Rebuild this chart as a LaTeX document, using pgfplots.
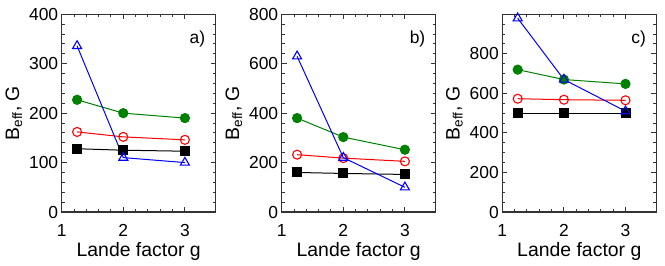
\documentclass[border=0pt]{standalone}
\usepackage{fontspec}
\setmainfont{Liberation Sans}
\usepackage{pgfplots}
\pgfplotsset{compat=1.18}
\definecolor{mygreen}{RGB}{0,128,0}
\pgfplotsset{
  panel/.style={
    scale only axis, width=154bp, height=197.7bp, anchor=south west,
    xmin=1, xmax=3.5, xtick={1,2,3}, minor x tick num=4,
    ymin=0,
    tick align=inside,
    font=\fontsize{17.5}{21}\selectfont,
    axis line style={line width=1.2bp, black!80},
    tick style={line width=1bp, black!80},
    major tick length=5bp, minor tick length=3bp,
    xlabel={Lande factor g},
    ylabel={B\textsubscript{eff}, G},
    label style={font=\fontsize{19.5}{23}\selectfont},
    /pgf/number format/assume math mode=true,
    xticklabel style={yshift=-9bp},
    xlabel style={yshift=1bp},
    ylabel style={yshift=0bp},
    clip=false,
  },
  sq/.style={black, line width=1bp, mark=square*, mark size=4.5bp, mark options={solid, fill=black}},
  ci/.style={red, line width=1bp, mark=o, mark size=4.5bp, mark options={solid, line width=1.1bp}},
  gr/.style={mygreen, line width=1bp, mark=*, mark size=4.6bp, mark options={solid, fill=mygreen}},
  tr/.style={blue, line width=1bp, mark=triangle, mark size=5.2bp, mark options={solid, line width=1.1bp}},
}
\begin{document}
\begin{tikzpicture}
\path[use as bounding box] (0,0) rectangle (665bp,266bp);
% panel a
\begin{axis}[panel, at={(61.7bp,54bp)}, ymax=400, ytick={0,100,...,400}, minor y tick num=4]
\addplot[sq] coordinates {(1.25,128) (2,125) (3,123)};
\addplot[ci] coordinates {(1.25,162) (2,152) (3,146)};
\addplot[gr] coordinates {(1.25,227) (2,200) (3,190)};
\addplot[tr] coordinates {(1.25,336) (2,110) (3,100)};
\node[anchor=east] at (rel axis cs:0.955,0.875) {a)};
\end{axis}
% panel b
\begin{axis}[panel, at={(281.7bp,54bp)}, ymax=800, ytick={0,200,...,800}, minor y tick num=4]
\addplot[sq] coordinates {(1.25,160) (2,156) (3,152)};
\addplot[ci] coordinates {(1.25,232) (2,218) (3,205)};
\addplot[gr] coordinates {(1.25,380) (2,303) (3,252)};
\addplot[tr] coordinates {(1.25,630) (2,220) (3,100)};
\node[anchor=east] at (rel axis cs:0.955,0.875) {b)};
\end{axis}
% panel c
\begin{axis}[panel, at={(502.3bp,54bp)}, ymax=1000, ytick={0,200,...,1000}, yticklabels={0,200,400,600,800,{}}, minor ytick={50,100,150,250,300,350,450,500,550,650,700,750,850,900,950}]
\addplot[sq] coordinates {(1.25,500) (2,500) (3,500)};
\addplot[ci] coordinates {(1.25,573) (2,568) (3,565)};
\addplot[gr] coordinates {(1.25,720) (2,670) (3,648)};
\addplot[tr] coordinates {(1.25,980) (2,670) (3,510)};
\node[anchor=east] at (rel axis cs:0.955,0.875) {c)};
\end{axis}
\end{tikzpicture}
\end{document}
